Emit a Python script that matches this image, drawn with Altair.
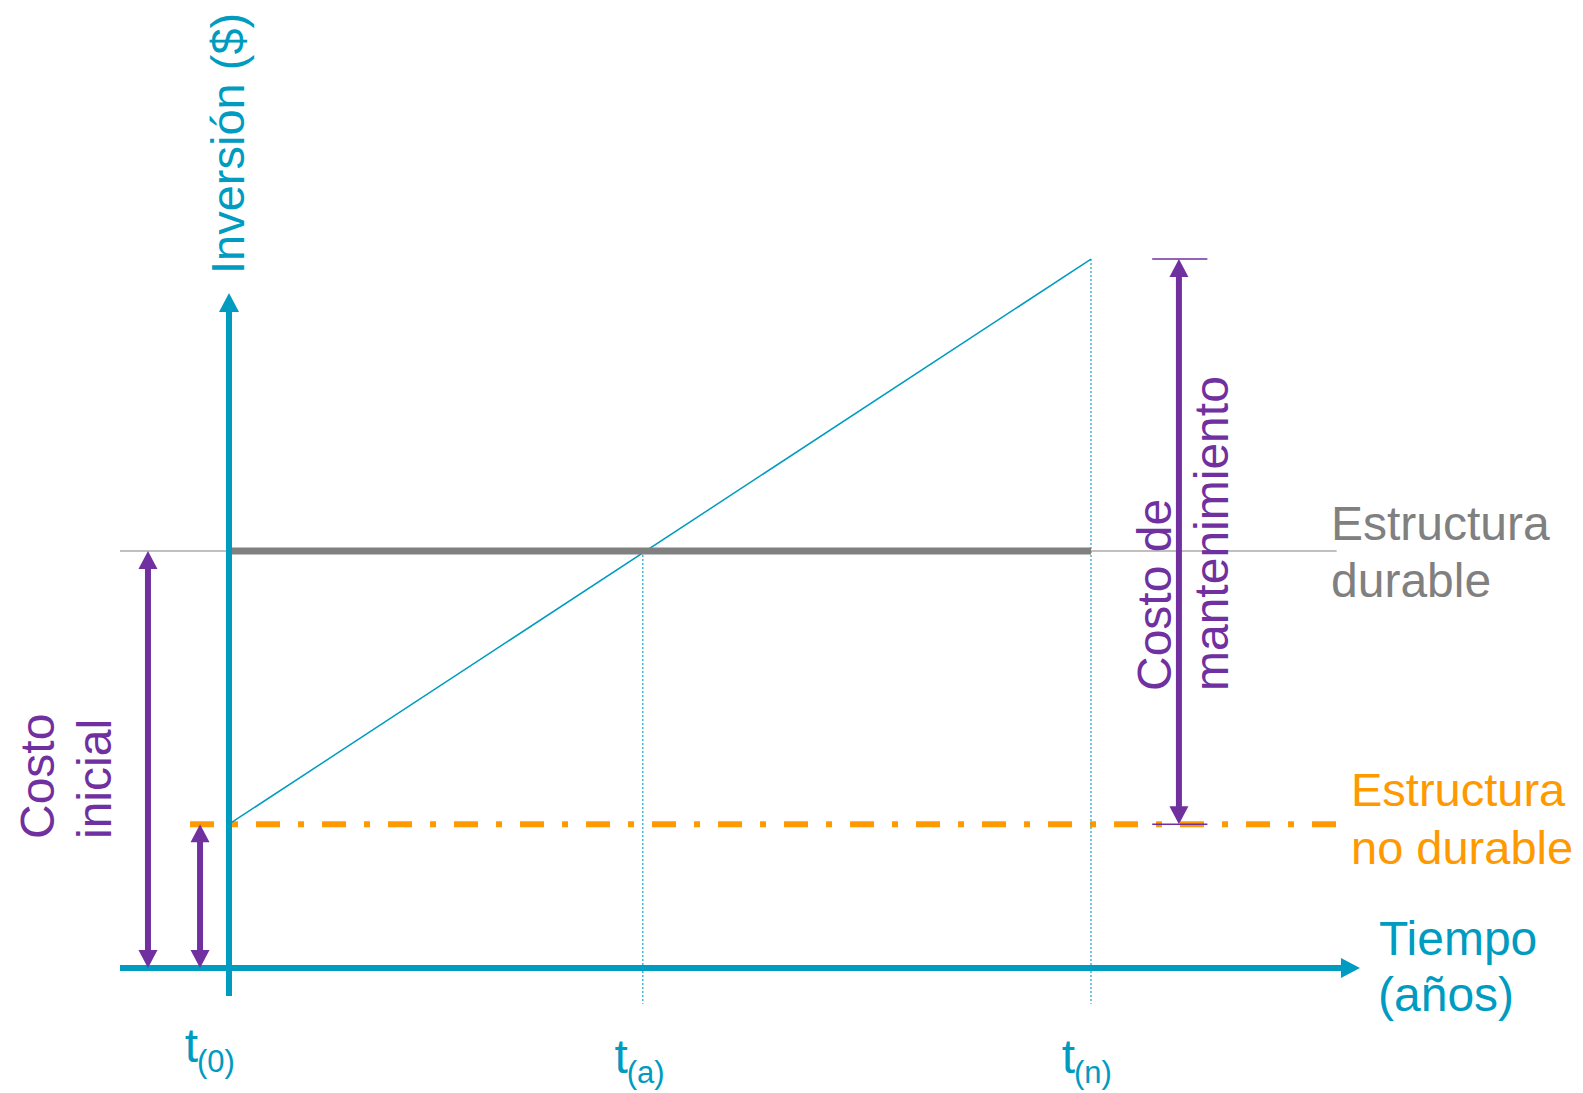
import altair as alt
import pandas as pd

# ---------------- diagram values ----------------
TICK_SUBS = ["(0)", "(a)", "(n)"]
TICK_TIMES = [0.0, 0.48, 1.0]                 # t(0), t(a), t(n)

COST_DURABLE = 100.0          # initial cost of the durable structure (flat in time)
COST_NON_DURABLE = 34.5       # initial cost of the non-durable structure
COST_NON_DURABLE_TN = 170.0   # non-durable structure incl. maintenance, at t(n)

AXIS_X_RANGE = [-0.1265, 1.312]    # time axis: left end .. arrow tip
AXIS_Y_RANGE = [-6.7, 161.9]       # investment axis: bottom end .. arrow tip
REF_LINE_X = [-0.1265, 1.285]      # thin reference line at the durable cost
ND_LINE_X = [-0.0452, 1.285]       # dash-dot line of the non-durable cost
GUIDE_BOTTOM = -8.6                # lower end of the dotted guides
ARROW_X = [-0.094, -0.0336, 1.102] # costo inicial (durable / non durable), mantenimiento
CAP_X = [1.071, 1.135]

# ---------------- layout / style ----------------
W, H = 1567, 1085
X0, KX = 221.0, 862.0     # plot-area pixel of t=0, pixels per time unit
Y0, KY = 960.0, 4.17      # plot-area pixel of cost=0, pixels per cost unit

BLUE = "#009BC0"
GUIDE = "#47B5D3"
PURPLE = "#7030A0"
ORANGE = "#FF9900"
GRAY = "#808080"
FONT = "Liberation Sans"
FS = 48

xscale = alt.Scale(domain=[-X0 / KX, (W - X0) / KX], nice=False, zero=False)
yscale = alt.Scale(domain=[(Y0 - H) / KY, Y0 / KY], nice=False, zero=False)


def seg(x1, y1, x2, y2, **mark):
    df = pd.DataFrame({"x": [x1], "y": [y1], "x2": [x2], "y2": [y2]})
    return alt.Chart(df).mark_rule(**mark).encode(
        x=alt.X("x:Q", scale=xscale, axis=None),
        y=alt.Y("y:Q", scale=yscale, axis=None),
        x2="x2:Q",
        y2="y2:Q",
    )


def head_v(x, tip, direction, w_px, l_px, color):
    """Vertical arrow head (direction +1 up, -1 down) with its tip at (x, tip)."""
    hw = w_px / 2 / KX
    ln = l_px / KY
    df = pd.DataFrame({
        "y": [tip, tip - direction * ln],
        "x": [x, x - hw],
        "x2": [x, x + hw],
    })
    return alt.Chart(df).mark_area(orient="horizontal", color=color, opacity=1).encode(
        y=alt.Y("y:Q", scale=yscale, axis=None),
        x=alt.X("x:Q", scale=xscale, axis=None),
        x2="x2:Q",
    )


def head_right(tip, v, w_px, l_px, color):
    hw = w_px / 2 / KY
    ln = l_px / KX
    df = pd.DataFrame({
        "x": [tip - ln, tip],
        "y": [v - hw, v],
        "y2": [v + hw, v],
    })
    return alt.Chart(df).mark_area(orient="vertical", color=color, opacity=1).encode(
        x=alt.X("x:Q", scale=xscale, axis=None),
        y=alt.Y("y:Q", scale=yscale, axis=None),
        y2="y2:Q",
    )


def label(text, px, py, size, color, angle=0, align="left"):
    df = pd.DataFrame({"label": [text]})
    return alt.Chart(df).mark_text(
        font=FONT, fontSize=size, color=color, angle=angle, align=align,
        baseline="alphabetic",
    ).encode(x=alt.value(px - 8), y=alt.value(py - 8), text="label:N")


def tick_label(tval, sub, dx_t, dx_s, base_t):
    df = pd.DataFrame({"x": [tval], "t": ["t"], "s": [sub]})
    enc_x = alt.X("x:Q", scale=xscale, axis=None)
    a = alt.Chart(df).mark_text(
        font=FONT, fontSize=FS, color=BLUE, align="right", baseline="alphabetic", dx=dx_t
    ).encode(x=enc_x, y=alt.value(base_t - 8), text="t:N")
    b = alt.Chart(df).mark_text(
        font=FONT, fontSize=31, color=BLUE, align="left", baseline="alphabetic", dx=dx_s
    ).encode(x=enc_x, y=alt.value(base_t + 10 - 8), text="s:N")
    return a + b


def double_arrow(x, v_lo, v_hi, color):
    sh = 9 / KY
    return (
        seg(x, v_lo + sh, x, v_hi - sh, color=color, strokeWidth=6)
        + head_v(x, v_hi, +1, 19, 18, color)
        + head_v(x, v_lo, -1, 19, 18, color)
    )


t0, ta, tn = TICK_TIMES
layers = []

# reference lines
layers.append(seg(REF_LINE_X[0], COST_DURABLE, REF_LINE_X[1], COST_DURABLE,
                  color=GRAY, strokeWidth=1))
layers.append(seg(ND_LINE_X[0], COST_NON_DURABLE, ND_LINE_X[1], COST_NON_DURABLE,
                  color=ORANGE, strokeWidth=6, strokeDash=[24, 18, 6, 18]))
# dotted guides
layers.append(seg(ta, COST_DURABLE, ta, GUIDE_BOTTOM, color=GUIDE, strokeWidth=1.5,
                  strokeDash=[2, 2]))
layers.append(seg(tn, COST_NON_DURABLE_TN, tn, GUIDE_BOTTOM, color=GUIDE,
                  strokeWidth=1.5, strokeDash=[2, 2]))
# non durable structure cost growth
layers.append(seg(t0, COST_NON_DURABLE, tn, COST_NON_DURABLE_TN, color=BLUE,
                  strokeWidth=1.5))
# durable structure
layers.append(seg(t0, COST_DURABLE, tn, COST_DURABLE, color=GRAY, strokeWidth=7))

# axes
layers.append(seg(AXIS_X_RANGE[0], 0, AXIS_X_RANGE[1] - 10 / KX, 0, color=BLUE,
                  strokeWidth=6))
layers.append(head_right(AXIS_X_RANGE[1], 0, 20, 19, BLUE))
layers.append(seg(0, AXIS_Y_RANGE[0], 0, AXIS_Y_RANGE[1] - 10 / KY, color=BLUE,
                  strokeWidth=6))
layers.append(head_v(0, AXIS_Y_RANGE[1], +1, 20, 19, BLUE))

# cost arrows
layers.append(double_arrow(ARROW_X[0], 0, COST_DURABLE, PURPLE))
layers.append(double_arrow(ARROW_X[1], 0, COST_NON_DURABLE, PURPLE))
layers.append(double_arrow(ARROW_X[2], COST_NON_DURABLE, COST_NON_DURABLE_TN, PURPLE))
layers.append(seg(CAP_X[0], COST_NON_DURABLE_TN, CAP_X[1], COST_NON_DURABLE_TN,
                  color=PURPLE, strokeWidth=1.5))
layers.append(seg(CAP_X[0], COST_NON_DURABLE, CAP_X[1], COST_NON_DURABLE,
                  color=PURPLE, strokeWidth=1.5))

# texts
layers.append(label("Inversión ($)", 244, 274, 47, BLUE, angle=270))
layers.append(label("Costo", 54, 839, FS, PURPLE, angle=270))
layers.append(label("inicial", 111, 839, FS, PURPLE, angle=270))
layers.append(label("Costo de", 1171, 691, FS, PURPLE, angle=270))
layers.append(label("mantenimiento", 1228, 691, FS, PURPLE, angle=270))
layers.append(label("Estructura", 1331, 540, FS, GRAY))
layers.append(label("durable", 1331, 597, FS, GRAY))
layers.append(label("Estructura", 1351, 806, 47, ORANGE))
layers.append(label("no durable", 1351, 864, 47, ORANGE))
layers.append(label("Tiempo", 1379, 955, FS, BLUE))
layers.append(label("(años)", 1378, 1011, FS, BLUE))

# time tick labels
layers.append(tick_label(t0, TICK_SUBS[0], -31, -32, 1062))
layers.append(tick_label(ta, TICK_SUBS[1], -15, -16, 1073))
layers.append(tick_label(tn, TICK_SUBS[2], -16, -17, 1073))

chart = alt.layer(*layers).properties(
    width=W, height=H, padding=0, autosize="none"
).configure_view(stroke=None)

chart.save("out.html", embed_options={"renderer": "svg", "actions": False})
